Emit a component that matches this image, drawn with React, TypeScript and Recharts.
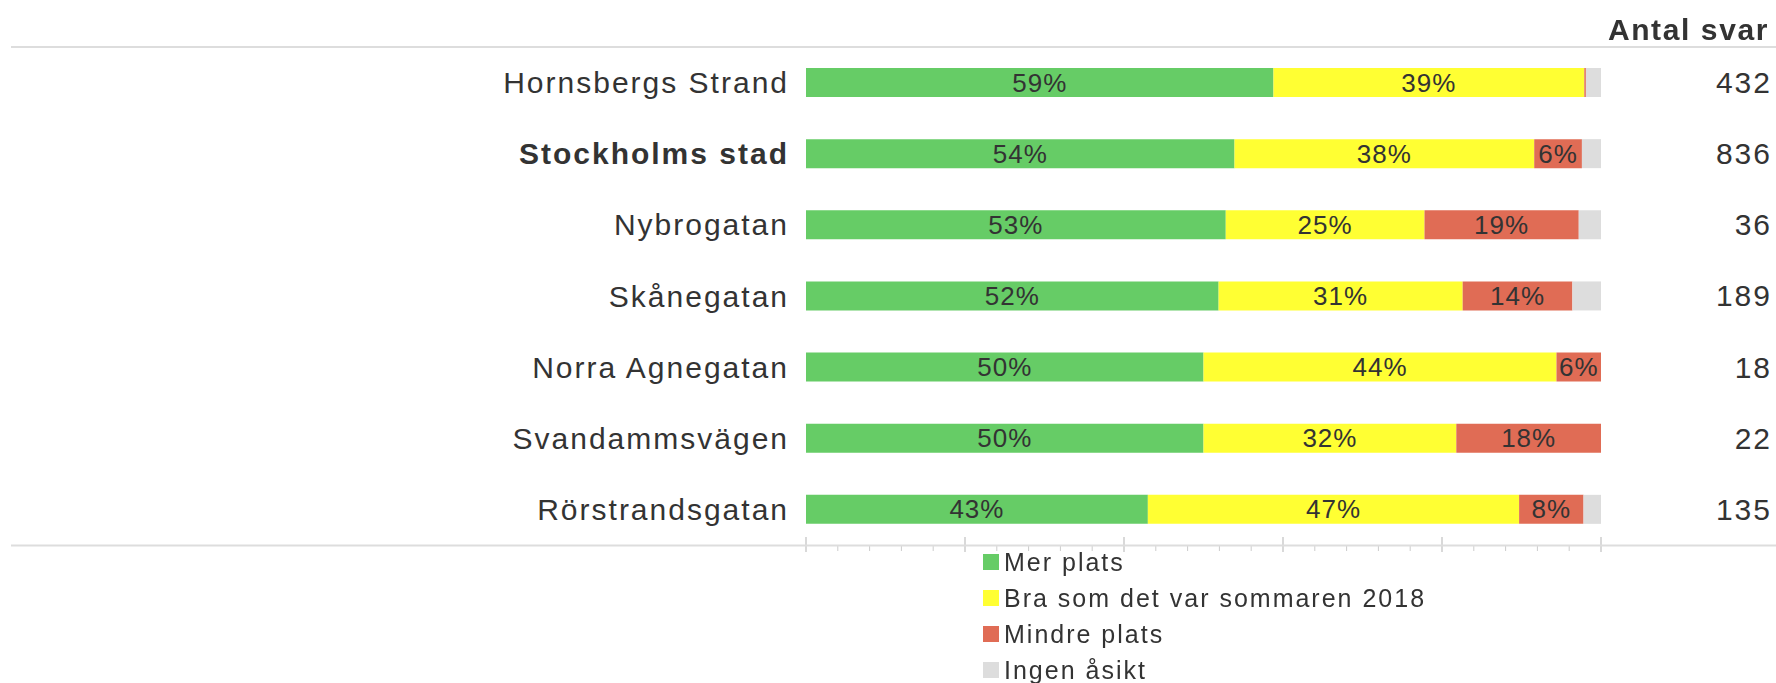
import React from "react";
import { Bar, BarChart, LabelList, Legend, XAxis, YAxis } from "recharts";

// andelar i procent, en rad per gata
const categories = [
  "Hornsbergs Strand",
  "Stockholms stad",
  "Nybrogatan",
  "Skånegatan",
  "Norra Agnegatan",
  "Svandammsvägen",
  "Rörstrandsgatan",
];
const seriesNames = ["Mer plats", "Bra som det var sommaren 2018", "Mindre plats", "Ingen åsikt"];
const merPlats = [58.8, 53.9, 52.8, 51.9, 50.0, 50.0, 43.0];
const braSom = [39.1, 37.7, 25.0, 30.7, 44.4, 31.8, 46.7];
const mindrePlats = [0.2, 6.0, 19.4, 13.8, 5.6, 18.2, 8.1];
const ingenAsikt = [1.9, 2.4, 2.8, 3.6, 0, 0, 2.2];
const antalSvar = [432, 836, 36, 189, 18, 22, 135];
const xTicks = [0, 4, 8, 12, 16, 20, 24, 28, 32, 36, 40, 44, 48, 52, 56, 60, 64, 68, 72, 76, 80, 84, 88, 92, 96, 100];
const highlighted = "Stockholms stad";

const W = 1776;
const H = 683;
const MARGIN = { top: 47, right: 175, bottom: 137, left: 0 };
const FONT = "'Liberation Sans', Arial, sans-serif";
const TEXT = "#333333";
const LINE = "#dddddd";

const data = categories.map((name, i) => ({
  name,
  mer: merPlats[i],
  bra: braSom[i],
  mindre: mindrePlats[i],
  ingen: ingenAsikt[i],
  n: antalSvar[i],
}));

const CategoryTick = (props: any) => {
  const { x, y, payload } = props;
  return (
    <text
      x={x}
      y={y}
      dy="0.35em"
      textAnchor="end"
      fontFamily={FONT}
      fontSize={30}
      letterSpacing={2}
      fill={TEXT}
      fontWeight={payload.value === highlighted ? 700 : 400}
    >
      {payload.value}
    </text>
  );
};

const PercentTick = (props: any) => {
  const { x, y, payload } = props;
  const major = payload.value % 20 === 0;
  return major ? (
    <line x1={x} x2={x} y1={y - 8} y2={y + 7} stroke="#cccccc" strokeWidth={1.5} />
  ) : (
    <line x1={x} x2={x} y1={y} y2={y + 6} stroke="#cccccc" strokeWidth={1} />
  );
};

const SegmentLabel = (props: any) => {
  const { x, y, width, height, value } = props;
  if (value == null || Number(value) < 5) return null;
  return (
    <text
      x={Number(x) + Number(width) / 2}
      y={Number(y) + Number(height) / 2}
      dy="0.35em"
      textAnchor="middle"
      fontFamily={FONT}
      fontSize={26}
      letterSpacing={1}
      fill={TEXT}
    >
      {Math.round(Number(value))}%
    </text>
  );
};

const CountLabel = (props: any) => {
  const { y, height, value } = props;
  return (
    <text
      x={W - 4}
      y={Number(y) + Number(height) / 2}
      dy="0.35em"
      textAnchor="end"
      fontFamily={FONT}
      fontSize={30}
      letterSpacing={2}
      fill={TEXT}
    >
      {value}
    </text>
  );
};

const LegendContent = (props: any) => {
  const items = [...(props.payload || [])].sort(
    (a: any, b: any) => seriesNames.indexOf(a.value) - seriesNames.indexOf(b.value)
  );
  return (
    <div style={{ fontFamily: FONT, fontSize: 25, letterSpacing: 2, color: TEXT }}>
      {items.map((item: any) => (
        <div key={item.value} style={{ display: "flex", alignItems: "center", height: 36, whiteSpace: "nowrap" }}>
          <span style={{ width: 16, height: 16, background: item.color, marginRight: 5, display: "inline-block" }} />
          <span>{item.value}</span>
        </div>
      ))}
    </div>
  );
};

const App = () => {
  const plotBottom = H - MARGIN.bottom;
  return (
    <div style={{ position: "fixed", left: 0, top: 0, width: W, height: H, background: "#fff" }}>
      <BarChart width={W} height={H} data={data} layout="vertical" margin={MARGIN}>
        <XAxis
          type="number"
          domain={[0, 100]}
          ticks={xTicks}
          interval={0}
          axisLine={false}
          tickLine={false}
          tickSize={0}
          tickMargin={0}
          height={1}
          tick={<PercentTick />}
        />
        <YAxis
          type="category"
          dataKey="name"
          width={806}
          axisLine={false}
          tickLine={false}
          tickSize={0}
          tickMargin={17}
          interval={0}
          tick={<CategoryTick />}
        />
        <Legend
          layout="vertical"
          align="center"
          verticalAlign="middle"
          content={<LegendContent />}
          wrapperStyle={{ left: 983, top: 544, width: 520 }}
        />
        <Bar dataKey="mer" name={seriesNames[0]} stackId="a" fill="#66cc66" barSize={29} isAnimationActive={false}>
          <LabelList dataKey="mer" content={<SegmentLabel />} />
          <LabelList dataKey="n" content={<CountLabel />} />
        </Bar>
        <Bar dataKey="bra" name={seriesNames[1]} stackId="a" fill="#ffff33" barSize={29} isAnimationActive={false}>
          <LabelList dataKey="bra" content={<SegmentLabel />} />
        </Bar>
        <Bar dataKey="mindre" name={seriesNames[2]} stackId="a" fill="#e06c55" barSize={29} isAnimationActive={false}>
          <LabelList dataKey="mindre" content={<SegmentLabel />} />
        </Bar>
        <Bar dataKey="ingen" name={seriesNames[3]} stackId="a" fill="#dddddd" barSize={29} isAnimationActive={false} />
      </BarChart>
      <svg width={W} height={H} style={{ position: "absolute", left: 0, top: 0, pointerEvents: "none" }}>
        <line x1={11} x2={W} y1={MARGIN.top} y2={MARGIN.top} stroke={LINE} strokeWidth={2} />
        <line x1={11} x2={W} y1={plotBottom - 0.5} y2={plotBottom - 0.5} stroke={LINE} strokeWidth={2} />
        <text
          x={W - 7}
          y={40}
          textAnchor="end"
          fontFamily={FONT}
          fontSize={30}
          fontWeight={700}
          letterSpacing={1.6}
          fill={TEXT}
        >
          Antal svar
        </text>
      </svg>
    </div>
  );
};

export default App;
